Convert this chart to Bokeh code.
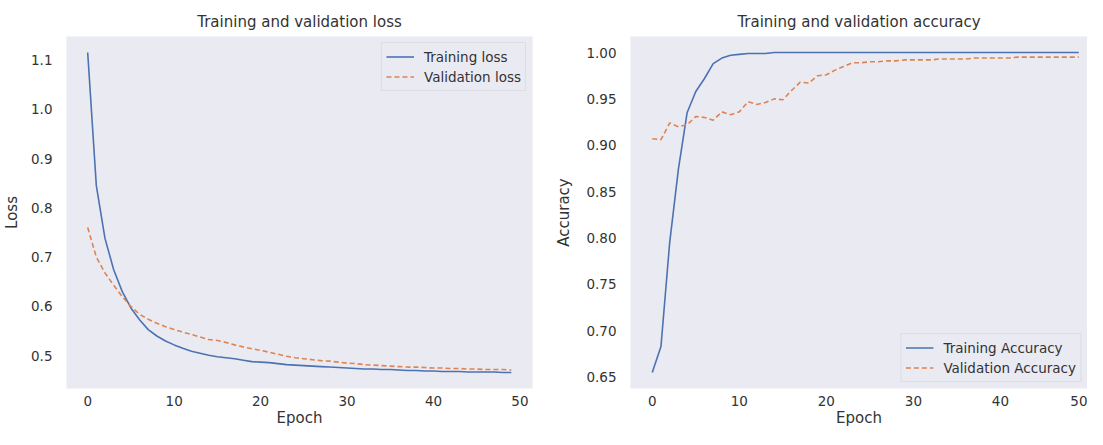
from bokeh.plotting import figure
from bokeh.layouts import row
from bokeh.models import Range1d, Legend, LegendItem, NumeralTickFormatter, Title
from bokeh.embed import file_html
from bokeh.resources import INLINE

epochs = list(range(50))

train_loss = [1.115, 0.845, 0.738, 0.675, 0.630, 0.597, 0.573, 0.553, 0.540, 0.530,
              0.522, 0.515, 0.509, 0.505, 0.501, 0.498, 0.496, 0.494, 0.491, 0.488,
              0.487, 0.486, 0.484, 0.482, 0.481, 0.480, 0.479, 0.478, 0.477, 0.476,
              0.475, 0.474, 0.473, 0.473, 0.472, 0.472, 0.471, 0.470, 0.470, 0.469,
              0.469, 0.468, 0.468, 0.468, 0.467, 0.467, 0.467, 0.467, 0.466, 0.466]
val_loss = [0.760, 0.700, 0.668, 0.643, 0.620, 0.600, 0.584, 0.574, 0.566, 0.559,
            0.553, 0.548, 0.543, 0.538, 0.533, 0.531, 0.527, 0.522, 0.518, 0.514,
            0.511, 0.507, 0.503, 0.499, 0.496, 0.494, 0.492, 0.490, 0.489, 0.487,
            0.485, 0.484, 0.482, 0.481, 0.480, 0.479, 0.478, 0.477, 0.477, 0.476,
            0.475, 0.475, 0.474, 0.474, 0.473, 0.473, 0.472, 0.472, 0.472, 0.471]

train_acc = [0.655, 0.683, 0.795, 0.874, 0.935, 0.958, 0.972, 0.988, 0.994, 0.997,
             0.998, 0.999, 0.999, 0.999, 1.000, 1.000, 1.000, 1.000, 1.000, 1.000,
             1.000, 1.000, 1.000, 1.000, 1.000, 1.000, 1.000, 1.000, 1.000, 1.000,
             1.000, 1.000, 1.000, 1.000, 1.000, 1.000, 1.000, 1.000, 1.000, 1.000,
             1.000, 1.000, 1.000, 1.000, 1.000, 1.000, 1.000, 1.000, 1.000, 1.000]
val_acc = [0.907, 0.906, 0.924, 0.920, 0.922, 0.931, 0.930, 0.927, 0.936, 0.933,
           0.936, 0.947, 0.944, 0.946, 0.950, 0.949, 0.959, 0.968, 0.967, 0.975,
           0.976, 0.981, 0.985, 0.989, 0.989, 0.990, 0.990, 0.991, 0.991, 0.992,
           0.992, 0.992, 0.992, 0.993, 0.993, 0.993, 0.993, 0.994, 0.994, 0.994,
           0.994, 0.994, 0.995, 0.995, 0.995, 0.995, 0.995, 0.995, 0.995, 0.995]

x_ticks = [0, 10, 20, 30, 40, 50]
loss_ticks = [0.5, 0.6, 0.7, 0.8, 0.9, 1.0, 1.1]
acc_ticks = [0.65, 0.70, 0.75, 0.80, 0.85, 0.90, 0.95, 1.00]

BLUE = "#4C72B0"
ORANGE = "#DD8452"
BG = "#EAEAF2"
TXT = "#333333"
FONT = "DejaVu Sans"


def padded(*series):
    lo = min(min(s) for s in series)
    hi = max(max(s) for s in series)
    pad = 0.05 * (hi - lo)
    return lo - pad, hi + pad


def style(p, title, xlabel, ylabel, ticks, fmt, ylabel_standoff):
    p.background_fill_color = BG
    p.border_fill_color = "white"
    p.outline_line_color = None
    p.xgrid.visible = False
    p.ygrid.visible = False
    p.add_layout(Title(text=title, text_font=FONT, text_font_size="15px",
                       text_font_style="normal", text_color=TXT, align="center",
                       standoff=12), "above")
    p.add_layout(Title(text=" ", text_font_size="2px", standoff=0), "above")
    for ax in (p.xaxis[0], p.yaxis[0]):
        ax.axis_line_color = None
        ax.major_tick_line_color = None
        ax.minor_tick_line_color = None
        ax.major_tick_out = 0
        ax.major_tick_in = 0
        ax.major_label_text_font = FONT
        ax.major_label_text_font_size = "13.5px"
        ax.major_label_text_color = TXT
        ax.axis_label_text_font = FONT
        ax.axis_label_text_font_size = "15px"
        ax.axis_label_text_font_style = "normal"
        ax.axis_label_text_color = TXT
    p.xaxis.axis_label = xlabel
    p.yaxis.axis_label = ylabel
    p.xaxis.ticker = x_ticks
    p.yaxis.ticker = ticks
    p.yaxis.formatter = NumeralTickFormatter(format=fmt)
    p.xaxis.major_label_standoff = 7
    p.xaxis.axis_label_standoff = 0
    p.yaxis.major_label_standoff = 14
    p.yaxis.axis_label_standoff = ylabel_standoff


def make_legend(items, loc):
    lg = Legend(items=items, location=loc)
    lg.label_text_font = FONT
    lg.label_text_font_size = "13.5px"
    lg.label_text_color = TXT
    lg.background_fill_color = BG
    lg.background_fill_alpha = 0.8
    lg.border_line_color = "#D0D0D8"
    lg.border_line_width = 1
    lg.margin = 6
    lg.padding = 4
    lg.spacing = 1
    lg.label_height = 19
    lg.glyph_height = 19
    lg.glyph_width = 28
    lg.label_standoff = 10
    return lg


# ---- left: loss ----
ylo, yhi = padded(train_loss, val_loss)
p1 = figure(width=552, height=429, output_backend="svg", toolbar_location=None,
            x_range=Range1d(-2.45, 51.45), y_range=Range1d(ylo, yhi),
            min_border_left=61, min_border_right=20, min_border_top=0, min_border_bottom=40)
style(p1, "Training and validation loss", "Epoch", "Loss", loss_ticks, "0.0", 7)
r1 = p1.line(epochs, train_loss, line_color=BLUE, line_width=1.6)
r2 = p1.line(epochs, val_loss, line_color=ORANGE, line_width=1.6, line_dash="5 3")
p1.add_layout(make_legend([LegendItem(label="Training loss", renderers=[r1]),
                           LegendItem(label="Validation loss", renderers=[r2])], "top_right"))

# ---- right: accuracy ----
alo, ahi = padded(train_acc, val_acc)
p2 = figure(width=535, height=429, output_backend="svg", toolbar_location=None,
            x_range=Range1d(-2.5, 50.0), y_range=Range1d(alo, ahi),
            min_border_left=76, min_border_right=0, min_border_top=0, min_border_bottom=40)
style(p2, "Training and validation accuracy", "Epoch", "Accuracy", acc_ticks, "0.00", 10)
r3 = p2.line(epochs, train_acc, line_color=BLUE, line_width=1.6)
r4 = p2.line(epochs, val_acc, line_color=ORANGE, line_width=1.6, line_dash="5 3")
p2.add_layout(make_legend([LegendItem(label="Training Accuracy", renderers=[r3]),
                           LegendItem(label="Validation Accuracy", renderers=[r4])], "bottom_right"))

layout = row(p1, p2)
open("out.html", "w").write(file_html(layout, INLINE))
